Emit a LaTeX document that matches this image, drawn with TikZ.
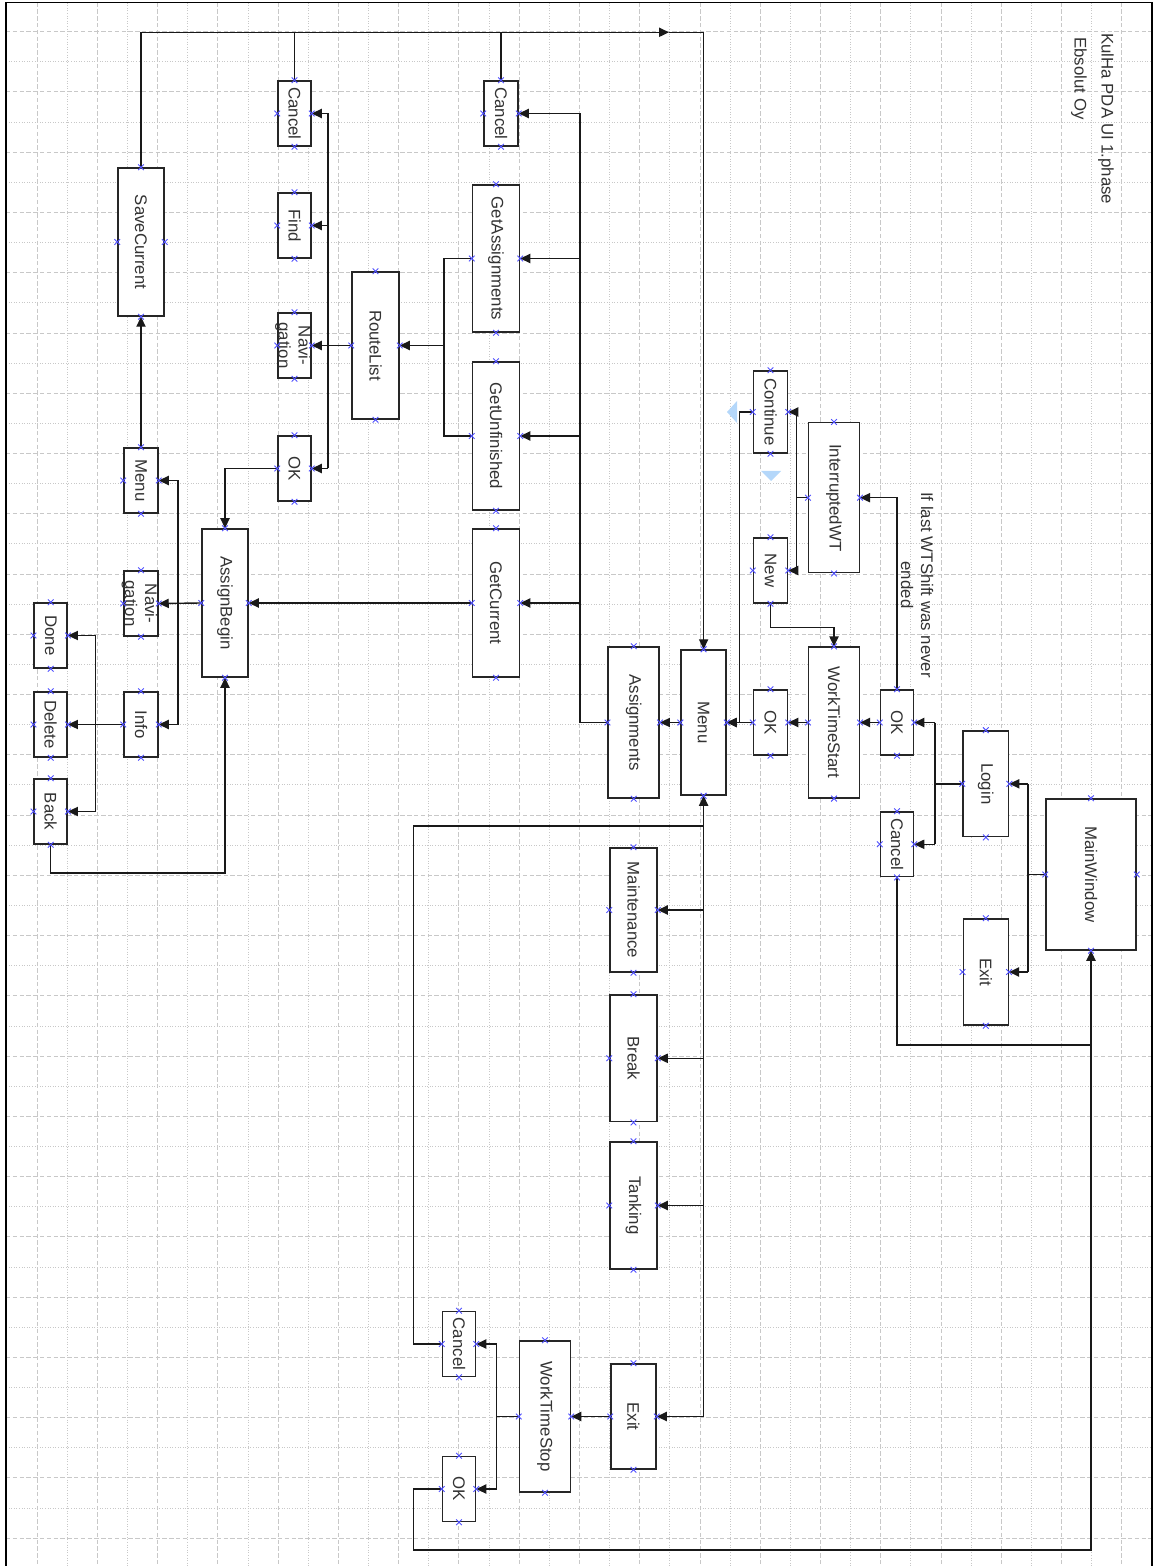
\documentclass[tikz,border=0pt]{standalone}
\usepackage{fontspec}
\setmainfont{Liberation Sans}
\usetikzlibrary{arrows.meta,shapes.misc}
\definecolor{handle}{RGB}{180,215,250}
\definecolor{mkblue}{RGB}{80,80,255}
\definecolor{gridc}{RGB}{200,200,200}
\tikzset{
  box/.style={draw=black!85, line width=0.75pt, fill=white, inner sep=0pt,
    font=\fontsize{8.4}{10}\selectfont, text=black!80},
  lbl/.style={inner sep=0pt, font=\fontsize{8.4}{10}\selectfont, text=black!80},
  conn/.style={line width=0.7pt, draw=black!90},
  arr/.style={conn, -{Triangle[length=5pt,width=4.6pt]}},
  xm/.style={cross out, draw=mkblue, line width=0.45pt, minimum size=2.4pt, inner sep=0pt},
  gdash/.style={draw=gridc, line width=0.5pt, dash pattern=on 2.2pt off 1.2pt},
  gdot/.style={draw=gridc, line width=0.5pt, dash pattern=on 0.5pt off 0.8pt},
}
\newcommand\mybox[6]{\node[box,minimum width=#4*0.5pt,minimum height=#5*0.5pt] (#1) at (#2,#3) {\rotatebox{-90}{#6}};}
\newcommand\mymk[1]{\foreach \a in {north,south,east,west}{\node[xm] at (#1.\a) {};}}
\begin{document}
\begin{tikzpicture}[x=0.5pt,y=-0.5pt]
\useasboundingbox (0,0) rectangle (1168,1566);
% grid
\foreach \k in {1,...,37}{
  \pgfmathsetmacro\gx{7+30.13*\k}
  \ifodd\k \draw[gdash] (\gx,2.7) -- (\gx,1566); \else \draw[gdot] (\gx,2.7) -- (\gx,1566); \fi
}
\foreach \k in {1,...,51}{
  \pgfmathsetmacro\gy{1.6+30.13*\k}
  \ifodd\k \draw[gdash] (6,\gy) -- (1151.7,\gy); \else \draw[gdot] (6,\gy) -- (1151.7,\gy); \fi
}
% frame
\draw[line width=0.8pt] (6,1566) -- (6,2.7) -- (1151.7,2.7) -- (1151.7,1566);

% boxes
\mybox{cancelA}{294.5}{113.5}{33}{65}{Cancel}
\mybox{cancelB}{501}{113.5}{34}{65}{Cancel}
\mybox{saveCur}{141}{242}{46}{148}{SaveCurrent}
\mybox{find}{294.5}{225.5}{33}{65}{Find}
\node[box,minimum width=16.5pt,minimum height=32.5pt] (navA) at (294.5,345.5) {};
\node[lbl,rotate=-90,align=center] (navAt) at (293,345.5) {Navi-\\gation};
\mybox{okA}{294.5}{468.5}{33}{65}{OK}
\mybox{routeList}{375.5}{345.5}{47}{147}{RouteList}
\mybox{getAssign}{496}{258.5}{47}{147}{GetAssignments}
\mybox{getUnf}{496}{436}{47}{148}{GetUnfinished}
\mybox{menuA}{141}{480.5}{34}{65}{Menu}
\mybox{assignBegin}{225}{603}{46}{148}{AssignBegin}
\node[box,minimum width=17pt,minimum height=32.5pt] (navB) at (141,603.5) {};
\node[lbl,rotate=-90,align=center] (navBt) at (139.5,603.5) {Navi-\\gation};
\mybox{getCur}{496}{603}{47}{148}{GetCurrent}
\mybox{info}{141}{724.5}{34}{65}{Info}
\mybox{done}{50.7}{635.5}{33}{65}{Done}
\mybox{delete}{50.7}{724.5}{33}{65}{Delete}
\mybox{back}{50.7}{811.5}{33}{65}{Back}
\mybox{assignments}{633.7}{722.5}{51}{151}{Assignments}
\mybox{menuB}{703.6}{722.5}{45}{145}{Menu}
\mybox{continue}{770.5}{412}{34}{82}{Continue}
\mybox{interrupted}{834}{497.7}{50.6}{150}{InterruptedWT}
\mybox{new}{770.5}{570.5}{34}{65}{New}
\mybox{okB}{770.5}{722.5}{34}{65}{OK}
\mybox{wtStart}{834}{722.5}{50.6}{150.7}{WorkTimeStart}
\mybox{okC}{897}{722.5}{33}{65}{OK}
\mybox{cancelC}{897}{844.3}{33}{64.7}{Cancel}
\mybox{login}{985.8}{783.8}{45.6}{105.7}{Login}
\mybox{mainWin}{1091}{874.5}{90}{151}{MainWindow}
\mybox{exitA}{985.8}{972}{45}{106}{Exit}
\mybox{maint}{633.5}{910}{47}{124}{Maintenance}
\mybox{break}{633.5}{1058.3}{47}{126.7}{Break}
\mybox{tanking}{633.5}{1205.5}{47}{127}{Tanking}
\mybox{exitB}{633.5}{1416.5}{45}{105}{Exit}
\mybox{wtStop}{545}{1416.5}{51}{151}{WorkTimeStop}
\mybox{cancelD}{459}{1344}{33}{65}{Cancel}
\mybox{okD}{459}{1489}{33}{65}{OK}

% texts
\node[lbl,rotate=-90,anchor=west] (title1) at (1106,33) {KulHa PDA UI 1.phase};
\node[lbl,rotate=-90,anchor=west] (title2) at (1079,37) {Ebsolut Oy};
\node[lbl,rotate=-90,align=center] (note) at (917,585) {If last WTShift was never\\ended};

% connectors: top line
\coordinate (topmid) at (669,32.3);
\draw[arr] (saveCur.north) |- (topmid);
\draw[arr] (topmid) -| (menuB.north);
\draw[conn] (cancelA.north) -- (cancelA.north |- topmid);
\draw[conn] (cancelB.north) -- (cancelB.north |- topmid);
\draw[arr] (menuA.north) -- (saveCur.south);
% RouteList
\draw[arr] (routeList.west) -- (navA.east);
\coordinate (rb) at (328,345.5);
\draw[conn] (rb |- cancelA.east) -- (rb |- okA.east);
\draw[arr] (rb |- cancelA.east) -- (cancelA.east);
\draw[arr] (rb |- find.east) -- (find.east);
\draw[arr] (rb |- okA.east) -- (okA.east);
\coordinate (gm) at (444,345.5);
\draw[conn] (getAssign.west) -| (gm);
\draw[conn] (getUnf.west) -| (gm);
\draw[arr] (gm) -- (routeList.east);
% Assignments bus
\coordinate (ab) at (580,722.5);
\draw[conn] (assignments.west) -- (ab) -- (ab |- cancelB.east);
\draw[arr] (ab |- cancelB.east) -- (cancelB.east);
\draw[arr] (ab |- getAssign.east) -- (getAssign.east);
\draw[arr] (ab |- getUnf.east) -- (getUnf.east);
\draw[arr] (ab |- getCur.east) -- (getCur.east);
\draw[arr] (getCur.west) -- (assignBegin.east);
\draw[arr] (okA.west) -| (assignBegin.north);
% AssignBegin
\draw[arr] (assignBegin.west) -- (navB.east);
\coordinate (mb) at (178,603);
\draw[conn] (mb |- menuA.east) -- (mb |- info.east);
\draw[arr] (mb |- menuA.east) -- (menuA.east);
\draw[arr] (mb |- info.east) -- (info.east);
\draw[arr] (info.west) -- (delete.east);
\coordinate (db) at (95.7,724.5);
\draw[conn] (db |- done.east) -- (db |- back.east);
\draw[arr] (db |- done.east) -- (done.east);
\draw[arr] (db |- back.east) -- (back.east);
\coordinate (bb) at (50.7,873);
\draw[arr] (back.south) -- (bb) -| (assignBegin.south);
% Menu
\draw[arr] (menuB.west) -- (assignments.east);
\draw[arr] (okB.west) -- (menuB.east);
\coordinate (cb) at (739.4,412);
\draw[arr] (continue.west) -- (cb) |- (menuB.east);
\coordinate (ib) at (796.7,497.7);
\draw[conn] (interrupted.west) -- (ib);
\draw[conn] (ib |- continue.east) -- (ib |- new.east);
\draw[arr] (ib |- continue.east) -- (continue.east);
\draw[arr] (ib |- new.east) -- (new.east);
\draw[arr] (okC.north) |- (interrupted.east);
\draw[arr] (new.south) -- ++(0,24) -| (wtStart.north);
\draw[arr] (wtStart.west) -- (okB.east);
\draw[arr] (okC.west) -- (wtStart.east);
% Login
\coordinate (lb) at (935,783.8);
\draw[conn] (login.west) -- (lb);
\draw[conn] (lb |- okC.east) -- (lb |- cancelC.east);
\draw[arr] (lb |- okC.east) -- (okC.east);
\draw[arr] (lb |- cancelC.east) -- (cancelC.east);
\coordinate (mwb) at (1028,874.5);
\draw[conn] (mainWin.west) -- (mwb);
\draw[conn] (mwb |- login.east) -- (mwb |- exitA.east);
\draw[arr] (mwb |- login.east) -- (login.east);
\draw[arr] (mwb |- exitA.east) -- (exitA.east);
\coordinate (cj) at (1091,1045);
\draw[conn] (cancelC.south) |- (cj);
\coordinate (lo) at (413.7,1550);
\draw[arr] (okD.west) -| (lo) -| (mainWin.south);
% Menu bottom bus
\draw[conn] (menuB.south) -- (menuB.south |- exitB.east);
\draw[arr] (menuB.south |- maint.east) -- (maint.east);
\draw[arr] (menuB.south |- break.east) -- (break.east);
\draw[arr] (menuB.south |- tanking.east) -- (tanking.east);
\draw[arr] (menuB.south |- exitB.east) -- (exitB.east);
\coordinate (cdj) at (413.7,826);
\draw[arr] (cancelD.west) -| (cdj) -| (menuB.south);
\draw[arr] (exitB.west) -- (wtStop.east);
\coordinate (wb) at (496.6,1416.5);
\draw[conn] (wtStop.west) -- (wb);
\draw[conn] (wb |- cancelD.east) -- (wb |- okD.east);
\draw[arr] (wb |- cancelD.east) -- (cancelD.east);
\draw[arr] (wb |- okD.east) -- (okD.east);

% markers
\foreach \n in {cancelA,cancelB,saveCur,find,navA,okA,routeList,getAssign,getUnf,menuA,
  assignBegin,navB,getCur,info,done,delete,back,assignments,menuB,continue,interrupted,
  new,okB,wtStart,okC,cancelC,login,mainWin,exitA,maint,break,tanking,exitB,wtStop,cancelD,okD}{
  \mymk{\n}
}
% selection handles
\fill[handle] (737,401) -- (727,412) -- (737,423) -- cycle;
\fill[handle] (761,471) -- (781,471) -- (771,481) -- cycle;
\end{tikzpicture}
\end{document}
